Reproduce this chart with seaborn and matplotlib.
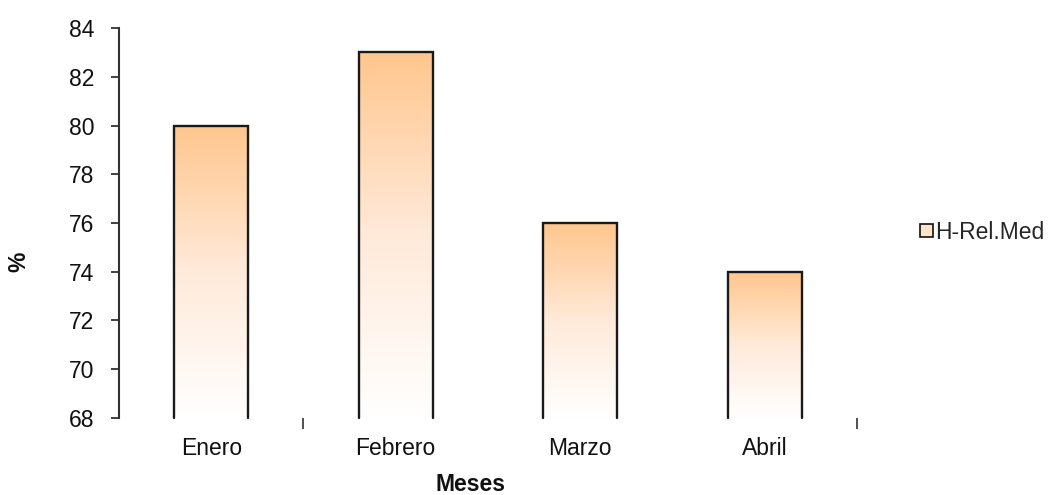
import numpy as np
import pandas as pd
import matplotlib
matplotlib.use("Agg")
import matplotlib.pyplot as plt
import seaborn as sns
from matplotlib.colors import LinearSegmentedColormap
from matplotlib.patches import Patch

# Humedad relativa media mensual
meses = ["Enero", "Febrero", "Marzo", "Abril"]
humedad = [80, 83, 76, 74]
serie = "H-Rel.Med"
y_ticks = [68, 70, 72, 74, 76, 78, 80, 82, 84]

sns.set_theme(style="white")
plt.rcParams["font.family"] = ["Liberation Sans", "DejaVu Sans"]

fig = plt.figure(figsize=(10.55, 4.95), dpi=100)
ax = fig.add_axes([0.1128, 0.1556, 0.6995, 0.7878])

df = pd.DataFrame({"Meses": meses, "valor": humedad})
sns.barplot(data=df, x="Meses", y="valor", ax=ax, width=0.4,
            color="white", edgecolor="none", linewidth=0, zorder=1)

ymin, ymax = y_ticks[0], y_ticks[-1]
ax.set_ylim(ymin, ymax)
ax.set_xlim(-0.5, len(meses) - 0.5)

# Vertical gradient fill (orange at the top, fading to white) and open-bottom outline
cmap = LinearSegmentedColormap.from_list("naranja", ["#FFFFFF", "#FFEADA", "#FFC68E"])
grad = np.linspace(0, 1, 256).reshape(-1, 1)
for p in list(ax.patches):
    x0, w = p.get_x(), p.get_width()
    top = p.get_y() + p.get_height()
    im = ax.imshow(grad, extent=[x0, x0 + w, ymin, top], origin="lower",
                   aspect="auto", cmap=cmap, zorder=2, interpolation="bilinear")
    im.set_clip_path(p)
    ax.plot([x0, x0, x0 + w, x0 + w], [ymin, top, top, ymin], color="#1a1a1a",
            lw=1.7, zorder=3, solid_joinstyle="miter", clip_on=False)

ax.set_ylim(ymin, ymax)
ax.set_xlim(-0.5, len(meses) - 0.5)

for s in ["top", "right", "bottom"]:
    ax.spines[s].set_visible(False)
ax.spines["left"].set_color("#333333")
ax.spines["left"].set_linewidth(1.5)

ax.set_yticks(y_ticks)
ax.tick_params(axis="y", left=True, length=6, width=1.3, color="#333333",
               direction="out", labelsize=16.5, pad=12, labelcolor="#111111")
ax.tick_params(axis="x", bottom=False, labelsize=16.5, pad=8, labelcolor="#111111")
boundaries = np.arange(len(meses)) + 0.5
ax.set_xticks(boundaries[[0, -1]], minor=True)
ax.tick_params(axis="x", which="minor", bottom=True, length=8, width=1.2,
               color="#333333", direction="out")

ax.set_xlabel("Meses", fontsize=16.5, fontweight="bold", color="#111111")
ax.xaxis.set_label_coords(0.476, -0.14)
ax.set_ylabel("%", fontsize=16.5, fontweight="bold", color="#111111")
ax.yaxis.set_label_coords(-0.12, 0.40)

handle = Patch(facecolor="#FFE2C8", edgecolor="#111111", linewidth=1.2)
fig.legend([handle], [serie], loc="center left", bbox_to_anchor=(0.872, 0.531),
           frameon=False, fontsize=16.5, handlelength=0.55, handleheight=0.55,
           handletextpad=0.1, borderpad=0, borderaxespad=0)

fig.savefig("out.png", dpi=100, facecolor="white")
